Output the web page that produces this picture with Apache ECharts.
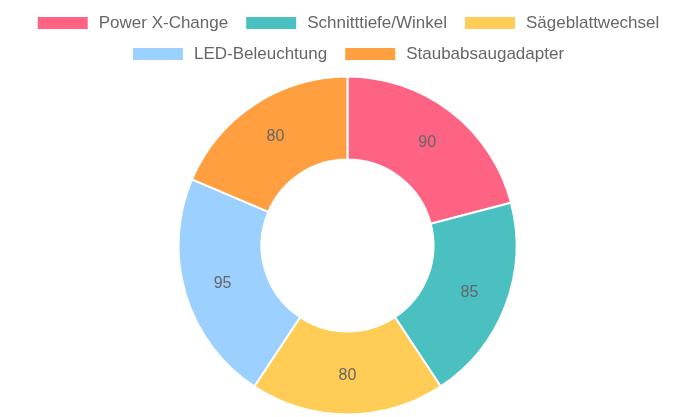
<!DOCTYPE html>
<html>
<head>
<meta charset="utf-8">
<script src="https://cdn.jsdelivr.net/npm/echarts@6/dist/echarts.min.js"></script>
<style>
html,body{margin:0;padding:0;background:#fff;}
#chart{width:695px;height:417px;}
</style>
</head>
<body>
<div id="chart"></div>
<script>
const categories = ['Power X-Change', 'Schnitttiefe/Winkel', 'Sägeblattwechsel', 'LED-Beleuchtung', 'Staubabsaugadapter'];
const values = [90, 85, 80, 95, 80];
const colors = ['#FF6384', '#4BC0C0', '#FFCD56', '#9BD0FF', '#FF9F40'];

const chart = echarts.init(document.getElementById('chart'));
const legendCommon = {
  orient: 'horizontal',
  icon: 'rect',
  itemWidth: 52,
  itemHeight: 14,
  itemGap: 16,
  padding: 0,
  textStyle: { fontFamily: 'Liberation Sans, Arial, sans-serif', fontSize: 17, color: '#666', padding: [0, 0, 0, 5] }
};
chart.setOption({
  animation: false,
  color: colors,
  legend: [
    Object.assign({}, legendCommon, { left: 'center', top: 14.5, data: categories.slice(0, 3) }),
    Object.assign({}, legendCommon, { left: 'center', top: 45.5, data: categories.slice(3) })
  ],
  series: [{
    type: 'pie',
    center: [347.5, 245.5],
    radius: [86, 169],
    startAngle: 90,
    clockwise: true,
    avoidLabelOverlap: false,
    itemStyle: { borderColor: '#fff', borderWidth: 2 },
    label: {
      show: true,
      position: 'inside',
      formatter: '{c}',
      fontFamily: 'Liberation Sans, Arial, sans-serif',
      fontSize: 16,
      color: '#666'
    },
    labelLine: { show: false },
    emphasis: { disabled: true },
    data: categories.map((c, i) => ({ name: c, value: values[i] }))
  }]
});
</script>
</body>
</html>
